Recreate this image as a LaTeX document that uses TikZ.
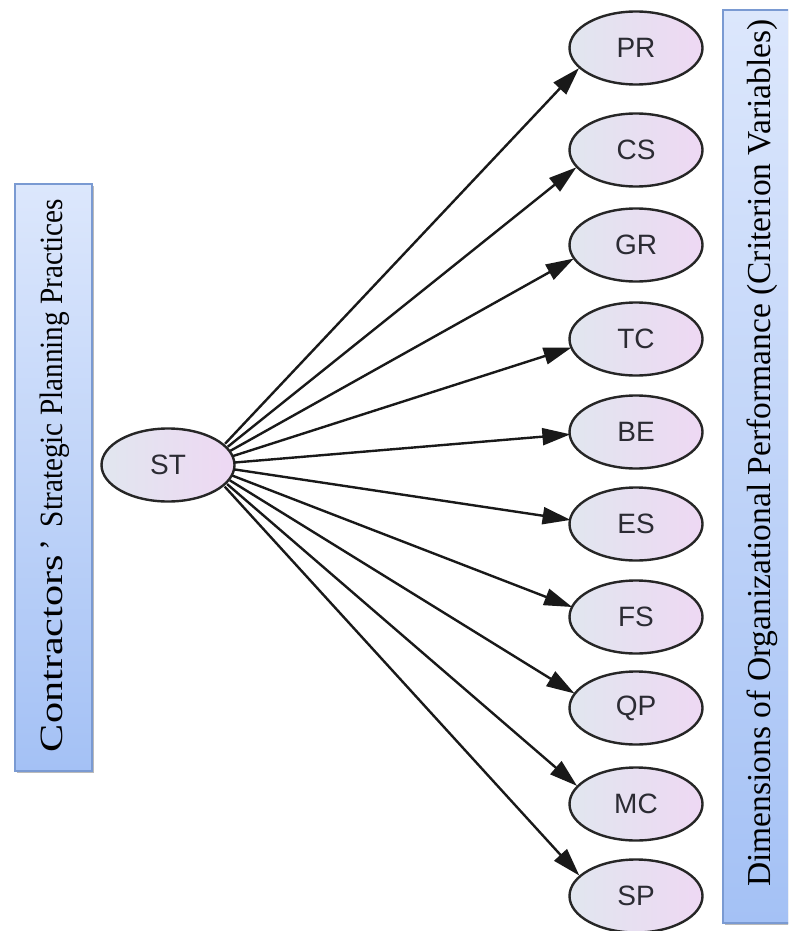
\documentclass[tikz,border=0pt]{standalone}
\usepackage{fontspec}
\setmainfont{Liberation Serif}
\newfontfamily\labelfont{Liberation Sans}
\usetikzlibrary{shapes.geometric,arrows.meta,shadows}
\definecolor{boxtop}{HTML}{DCE7FC}
\definecolor{boxbot}{HTML}{A4C1F5}
\definecolor{boxline}{HTML}{7A9AD2}
\definecolor{ovleft}{HTML}{E1E6EF}
\definecolor{ovright}{HTML}{EED8F3}
\definecolor{ink}{HTML}{2B2B33}
\tikzset{
  varbox/.style={draw=boxline, line width=1.5pt, top color=boxtop, bottom color=boxbot,
    drop shadow={shadow xshift=1.5pt, shadow yshift=-1.5pt, fill=black!45, opacity=0.6}},
  vartext/.style={rotate=90, text=black, inner sep=0pt},
  var/.style={ellipse, draw=black!85, line width=2.4pt, minimum width=133pt, minimum height=73pt,
    inner sep=0pt, left color=ovleft, right color=ovright,
    font=\labelfont\fontsize{28}{32}\selectfont, text=ink},
  % invisible round ports: edges run between them and stop at the oval rims
  port/.style={circle, inner sep=0pt, minimum size=#1},
  link/.style={line width=2.4pt, draw=black!90, -{Triangle[length=28pt, width=17pt]}}
}
\begin{document}
\begin{tikzpicture}[x=1pt, y=-1pt]
  \useasboundingbox (0,0) rectangle (788,931);
  \begin{scope}
    \clip (0,0) rectangle (788,931);
    % side panels
    \path[varbox] (15,184) rectangle (92,771);
    \path[varbox] (723,10) rectangle (810,923);
  \end{scope}
  \node[vartext, font=\fontsize{32.5}{38}\selectfont] (pred) at (55,475.5)
    {\scalebox{1.3}[1]{Contractors}\hspace{4pt}’\hspace{13pt}\scalebox{0.9}[1]{Strategic Planning Practices}};
  \node[vartext, font=\fontsize{33.5}{38}\selectfont] (crit) at (762,453)
    {Dimensions of Organizational Performance (Criterion Variables)};

  % predictor
  \node[var] (ST) at (168,465) {ST};
  \node[port=58pt] (hub) at (205,465) {};

  % criterion variables, each with its incoming port
  \foreach \n/\y in {PR/48, CS/150, GR/245, TC/339, BE/432, ES/524, FS/617, QP/708, MC/804, SP/896} {
    \node[var] (\n) at (636,\y) {\n};
    \node[port=55pt] (\n in) at (598,\y) {};
  }

  \foreach \t in {PR,CS,GR,TC,BE,ES,FS,QP,MC,SP}
    \draw[link] (hub) -- (\t in);
\end{tikzpicture}
\end{document}
